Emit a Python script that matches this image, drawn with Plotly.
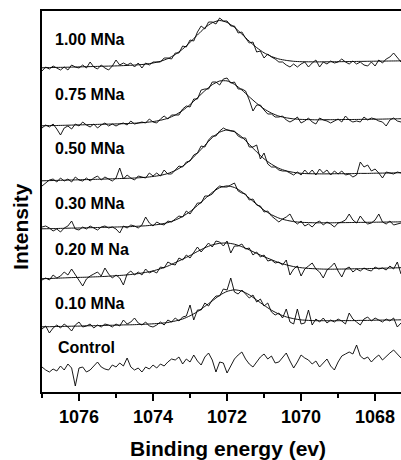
import numpy as np
import plotly.graph_objects as go

# Binding-energy sampling grids (eV)
energy = [round(1077.0 - 0.1 * i, 2) for i in range(98)]
fit_energy = [round(1077.0 - 0.2 * k, 2) for k in range(51)]

labels = ["1.00 MNa", "0.75 MNa", "0.50 MNa", "0.30 MNa", "0.20 M Na", "0.10 MNa", "Control"]

# Measured (noisy) spectra, stacked intensity (a.u.)
spec_100 = [321,325,323,326,324,322,325,322,327,325,324,327,324,330,325,323,327,324,322,326,
            332,327,329,327,329,325,329,324,329,327,330,330,330,334,334,333,339,339,346,345,
            352,351,360,366,363,370,370,368,374,371,371,366,366,359,360,354,349,350,340,341,
            334,338,335,333,330,330,327,325,328,325,328,330,325,329,332,325,330,328,331,329,
            330,333,330,328,331,328,330,327,326,330,326,332,329,333,335,339,334,330]
spec_075 = [264,267,265,268,263,257,264,266,263,268,266,270,267,265,268,264,267,269,266,268,
            266,268,269,267,271,268,269,270,269,273,270,269,273,276,273,277,277,277,283,286,
            285,293,293,302,303,303,310,310,307,313,314,309,310,303,303,301,292,281,287,287,
            282,278,278,275,275,276,272,270,272,275,269,271,274,270,268,274,272,271,269,271,
            273,270,276,272,270,271,270,275,272,274,273,271,270,266,272,274,271,270]
spec_050 = [206,209,212,213,210,214,211,213,210,215,212,211,214,211,214,216,212,215,213,211,
            214,224,213,217,214,212,216,215,214,219,216,219,216,222,218,218,222,226,225,230,
            231,237,239,246,245,252,256,256,261,264,262,261,261,256,254,254,245,245,247,233,
            239,228,225,225,222,221,221,219,217,220,217,222,218,222,217,223,219,222,217,221,
            218,221,217,218,215,217,230,225,227,221,223,219,214,220,219,218,220,219]
spec_030 = [165,166,164,161,163,160,164,166,171,163,162,165,163,166,164,162,165,166,164,165,
            163,159,166,164,167,166,164,167,175,169,166,170,168,167,171,170,173,176,175,181,
            178,184,189,189,196,196,198,203,206,205,205,207,209,201,199,198,192,193,187,186,
            180,181,176,173,170,173,175,178,171,168,171,166,168,165,169,171,167,170,168,165,
            169,170,172,178,172,169,176,171,168,169,172,178,170,168,171,167,168,169]
spec_020 = [112,114,112,117,114,116,120,117,123,117,112,106,113,116,118,120,116,124,118,114,
            117,114,107,118,121,117,120,117,123,119,121,119,125,124,130,128,127,134,132,137,
            134,140,145,140,145,149,145,151,150,146,151,139,146,146,148,143,144,137,140,135,
            137,131,132,129,130,127,132,117,123,126,116,123,126,129,123,120,114,122,125,129,
            121,115,123,125,120,123,121,124,122,121,125,123,124,122,126,123,130,118]
spec_010 = [63,66,59,64,67,64,68,65,61,67,70,65,66,68,64,67,65,68,67,65,
            68,66,72,68,70,74,69,67,70,66,65,67,70,67,72,70,74,71,75,76,
            87,72,82,82,89,86,92,96,96,103,102,114,100,98,102,98,94,97,90,93,
            86,89,80,77,79,74,83,70,68,83,68,69,82,67,73,70,74,69,72,70,
            73,71,68,79,73,70,67,73,75,71,74,72,70,73,71,74,65,69]
spec_ctrl = [25,22,20,23,21,26,22,28,24,6,24,25,20,22,26,30,25,23,22,27,
             25,29,26,34,25,22,24,20,25,23,27,24,28,26,30,33,32,35,28,33,
             30,37,31,27,35,39,32,20,30,29,19,26,33,37,40,33,28,25,30,35,
             38,33,36,29,30,35,39,31,24,30,37,34,32,28,31,25,29,33,26,22,
             30,36,38,40,38,47,36,33,35,30,34,37,32,36,39,42,38,34]

# Fitted curves (sampled every 0.2 eV)
fit_100 = [324.2,324.4,324.6,324.7,324.9,325.1,325.3,325.5,325.7,325.9,326.1,326.4,326.7,327.2,327.8,
           329.0,330.7,333.4,337.5,342.9,349.7,357.0,364.2,369.3,371.5,369.6,364.7,357.9,350.8,344.4,
           339.2,335.5,333.0,331.6,330.7,330.3,330.2,330.1,330.2,330.2,330.3,330.4,330.5,330.6,330.7,
           330.8,330.9,331.0,331.1,331.3,331.4]
fit_075 = [266.2,266.4,266.5,266.7,266.9,267.1,267.3,267.5,267.7,267.9,268.1,268.3,268.6,269.0,269.6,
           270.4,271.7,273.7,277.0,281.5,287.4,294.2,301.3,307.3,311.0,311.1,307.7,302.0,295.2,288.7,
           283.1,278.9,275.9,274.2,273.1,272.6,272.4,272.2,272.3,272.3,272.4,272.5,272.5,272.6,272.7,
           272.8,272.9,273.1,273.2,273.3,273.4]
fit_050 = [211.2,211.4,211.6,211.8,212.0,212.2,212.4,212.6,212.8,213.1,213.3,213.6,213.8,214.2,214.7,
           215.5,216.6,218.5,221.5,225.8,231.6,238.8,246.6,254.4,259.8,262.1,260.2,255.0,247.6,240.1,
           233.2,227.8,223.7,221.1,219.6,218.7,218.3,218.2,218.1,218.2,218.3,218.3,218.4,218.6,218.6,
           218.8,218.9,219.0,219.2,219.3,219.5]
fit_030 = [163.2,163.3,163.5,163.7,163.9,164.0,164.2,164.4,164.6,164.8,165.0,165.2,165.4,165.8,166.2,
           166.9,167.8,169.4,171.9,175.5,180.4,186.5,193.1,199.6,204.3,206.1,204.5,200.2,193.9,187.7,
           181.8,177.3,173.9,171.8,170.4,169.7,169.4,169.2,169.2,169.2,169.3,169.4,169.5,169.6,169.7,
           169.8,169.9,170.0,170.1,170.3,170.4]
fit_020 = [113.3,113.5,113.8,114.1,114.4,114.6,114.8,115.1,115.4,115.8,116.3,116.8,117.5,118.4,119.6,
           121.1,123.3,125.9,129.4,132.8,136.5,140.5,144.2,147.1,148.7,149.0,147.8,145.3,142.1,138.6,
           135.3,132.3,129.3,127.2,125.4,124.3,123.6,123.2,122.9,122.8,122.9,123.0,123.2,123.3,123.4,
           123.6,123.8,124.0,124.2,124.4,124.6]
fit_010 = [65.2,65.3,65.5,65.6,65.8,65.9,66.2,66.3,66.5,66.7,66.8,67.1,67.2,67.5,67.8,
           68.2,68.7,69.5,71.0,73.0,76.2,80.3,85.6,91.1,96.7,100.6,102.2,100.9,97.2,92.0,
           86.7,81.8,77.9,75.1,73.3,72.1,71.6,71.3,71.3,71.2,71.3,71.4,71.4,71.6,71.6,
           71.8,71.9,72.0,72.1,72.3,72.4]

x_ticks = [1076, 1074, 1072, 1070, 1068]

spectra = [spec_100, spec_075, spec_050, spec_030, spec_020, spec_010, spec_ctrl]
fits = [fit_100, fit_075, fit_050, fit_030, fit_020, fit_010]

FONT = "Liberation Sans, Arial, sans-serif"
fig = go.Figure()
for f in fits:
    fig.add_trace(go.Scatter(x=fit_energy, y=f, mode="lines",
                             line=dict(color="#111111", width=1.0, shape="spline", smoothing=0.6),
                             hoverinfo="skip", showlegend=False))
for s in spectra:
    fig.add_trace(go.Scatter(x=energy, y=s, mode="lines",
                             line=dict(color="black", width=0.9),
                             hoverinfo="skip", showlegend=False))

label_pos = [(0.031, 0.9265), (0.031, 0.782), (0.031, 0.638), (0.031, 0.496),
             (0.031, 0.375), (0.031, 0.231), (0.039, 0.118)]
for txt, (px, py) in zip(labels, label_pos):
    fig.add_annotation(text="<b>%s</b>" % txt, x=px, y=py, xref="paper", yref="paper",
                       xanchor="left", yanchor="middle", showarrow=False,
                       font=dict(family=FONT, size=16, color="black"))

fig.add_annotation(text="<b>Binding energy (ev)</b>", x=0.517, y=-0.147, xref="paper", yref="paper",
                   xanchor="center", yanchor="middle", showarrow=False,
                   font=dict(family=FONT, size=21, color="black"))
fig.add_annotation(text="<b>Intensity</b>", x=-0.0585, y=0.436, xref="paper", yref="paper",
                   xanchor="center", yanchor="middle", showarrow=False, textangle=-90,
                   font=dict(family=FONT, size=21, color="black"))

fig.update_layout(
    width=401, height=460,
    margin=dict(l=42, r=0, t=11, b=68),
    plot_bgcolor="white", paper_bgcolor="white",
    font=dict(family=FONT, color="black"),
    xaxis=dict(range=[1077.0, 1067.3], tickvals=x_ticks,
               ticktext=["<b>%d</b>" % v for v in x_ticks],
               ticks="outside", ticklen=7, tickwidth=1.5, tickcolor="black",
               minor=dict(dtick=1, tick0=1077, ticks="outside", ticklen=4, tickwidth=1.5, tickcolor="black"),
               showline=True, linecolor="black", linewidth=2, mirror=True,
               showgrid=False, zeroline=False,
               tickfont=dict(family=FONT, size=18, color="black")),
    yaxis=dict(range=[0, 381], showticklabels=False, ticks="",
               showline=True, linecolor="black", linewidth=2, mirror=False,
               showgrid=False, zeroline=False),
)

fig.write_html("out.html", config={"displayModeBar": False},
               post_script="document.body.style.margin='0';document.body.style.overflow='hidden';")
